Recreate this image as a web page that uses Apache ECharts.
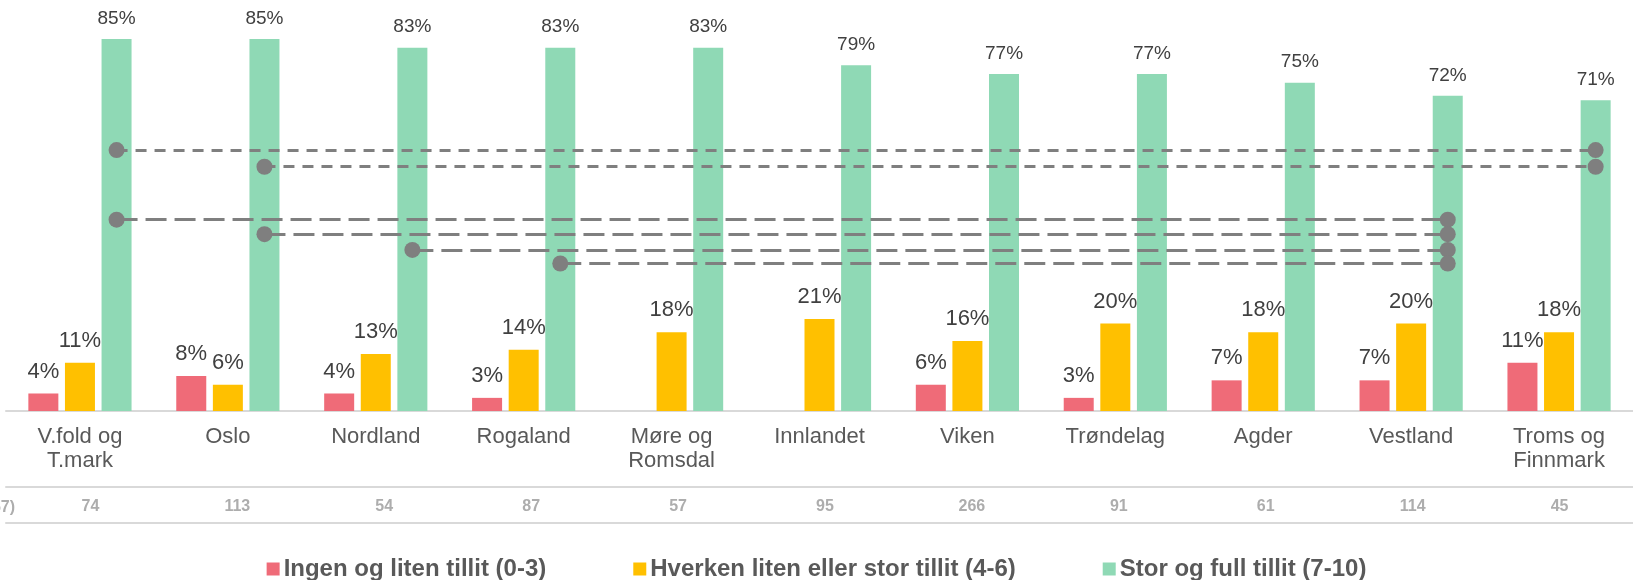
<!DOCTYPE html>
<html>
<head>
<meta charset="utf-8">
<script src="https://cdn.jsdelivr.net/npm/echarts@6/dist/echarts.min.js"></script>
<style>
  html, body { margin: 0; padding: 0; background: #fff; }
  #chart { width: 1633px; height: 580px; }
</style>
</head>
<body>
<div id="chart"></div>
<script>
// regions (fylker)
const regions = ['V.fold og\nT.mark', 'Oslo', 'Nordland', 'Rogaland', 'Møre og\nRomsdal', 'Innlandet', 'Viken', 'Trøndelag', 'Agder', 'Vestland', 'Troms og\nFinnmark']
// base sizes per region
const baseN = ['74', '113', '54', '87', '57', '95', '266', '91', '61', '114', '45']
const totalN = '(n=1057)'

const lowTrust = [4, 8, 4, 3, null, null, 6, 3, 7, 7, 11]
const midTrust = [11, 6, 13, 14, 18, 21, 16, 20, 18, 20, 18]
const highTrust = [85, 85, 83, 83, 83, 79, 77, 77, 75, 72, 71]

// significance lines between the green bars
const sigFrom = [0, 1, 0, 1, 2, 3]
const sigTo = [10, 10, 9, 9, 9, 9]
const sigLevel = [59.6, 55.8, 43.7, 40.4, 36.8, 33.7]
const sigShort = [true, true, false, false, false, false]

const seriesNames = ['Ingen og liten tillit (0-3)', 'Hverken liten eller stor tillit (4-6)', 'Stor og full tillit (7-10)']
const colors = ['#EF6B78', '#FFC000', '#8FD9B5']

const font = 'Liberation Sans, Arial, sans-serif'

var chart = echarts.init(document.getElementById('chart'))

var sigLines = sigFrom.map(function (f, i) {
  return [
    {
      coord: [f, sigLevel[i]],
      lineStyle: { type: sigShort[i] ? [11, 8] : [21, 8] },
    },
    { coord: [sigTo[i], sigLevel[i]] },
  ]
})

function barLabel(size) {
  return {
    show: true,
    position: 'top',
    distance: 11,
    formatter: '{c}%',
    color: '#404040',
    fontSize: size,
    fontFamily: font,
  }
}

var option = {
  animation: false,
  textStyle: { fontFamily: font },
  grid: [
    { left: 6, right: -9, top: 17, bottom: 169 },
    // n-row sits a little right of the bar groups
    { left: 17, right: -20, top: 17, bottom: 169 },
  ],
  legend: {
    top: 557,
    left: 'center',
    padding: 0,
    itemWidth: 13,
    itemHeight: 13,
    itemGap: 87,
    icon: 'rect',
    textStyle: { fontSize: 24, fontWeight: 'bold', color: '#595959', fontFamily: font, padding: [0, 0, 0, -1] },
    data: seriesNames,
  },
  xAxis: [
    {
      type: 'category',
      data: regions,
      gridIndex: 0,
      axisTick: { show: false },
      axisLine: { lineStyle: { color: '#D9D9D9', width: 2 } },
      axisLabel: { color: '#595959', fontSize: 22, lineHeight: 24, margin: 14, interval: 0 },
    },
    {
      type: 'category',
      data: baseN,
      gridIndex: 0,
      position: 'bottom',
      offset: 76,
      axisTick: { show: false },
      axisLine: { lineStyle: { color: '#D9D9D9', width: 2 } },
      axisLabel: { show: false },
    },
    {
      type: 'category',
      data: baseN,
      gridIndex: 0,
      position: 'bottom',
      offset: 112,
      axisTick: { show: false },
      axisLine: { lineStyle: { color: '#D9D9D9', width: 2 } },
      axisLabel: { show: false },
    },
    {
      type: 'category',
      data: baseN,
      gridIndex: 1,
      position: 'bottom',
      offset: 76,
      axisTick: { show: false },
      axisLine: { show: false },
      axisLabel: { color: '#ADADAD', fontSize: 16, fontWeight: 'bold', margin: 12, interval: 0 },
    },
  ],
  yAxis: [
    { type: 'value', gridIndex: 0, min: 0, max: 90, show: false, splitLine: { show: false } },
    { type: 'value', gridIndex: 1, min: 0, max: 90, show: false, splitLine: { show: false } },
  ],
  graphic: [
    {
      type: 'text',
      x: 15,
      y: 508,
      style: { text: totalN, fill: '#ADADAD', font: 'bold 16px ' + font, align: 'right', verticalAlign: 'middle' },
    },
  ],
  series: [
    {
      name: seriesNames[0],
      type: 'bar',
      data: lowTrust,
      barWidth: 30,
      barGap: '22%',
      itemStyle: { color: colors[0] },
      label: barLabel(22),
    },
    {
      name: seriesNames[1],
      type: 'bar',
      data: midTrust,
      barWidth: 30,
      barGap: '22%',
      itemStyle: { color: colors[1] },
      label: barLabel(22),
    },
    {
      name: seriesNames[2],
      type: 'bar',
      data: highTrust,
      barWidth: 30,
      barGap: '22%',
      itemStyle: { color: colors[2] },
      label: barLabel(19),
      markLine: {
        silent: true,
        symbol: ['circle', 'circle'],
        symbolSize: 16,
        label: { show: false },
        itemStyle: { color: '#7F7F7F' },
        lineStyle: { color: '#7F7F7F', width: 3 },
        emphasis: { disabled: true },
        data: sigLines,
      },
    },
  ],
}

chart.setOption(option)
</script>
</body>
</html>
